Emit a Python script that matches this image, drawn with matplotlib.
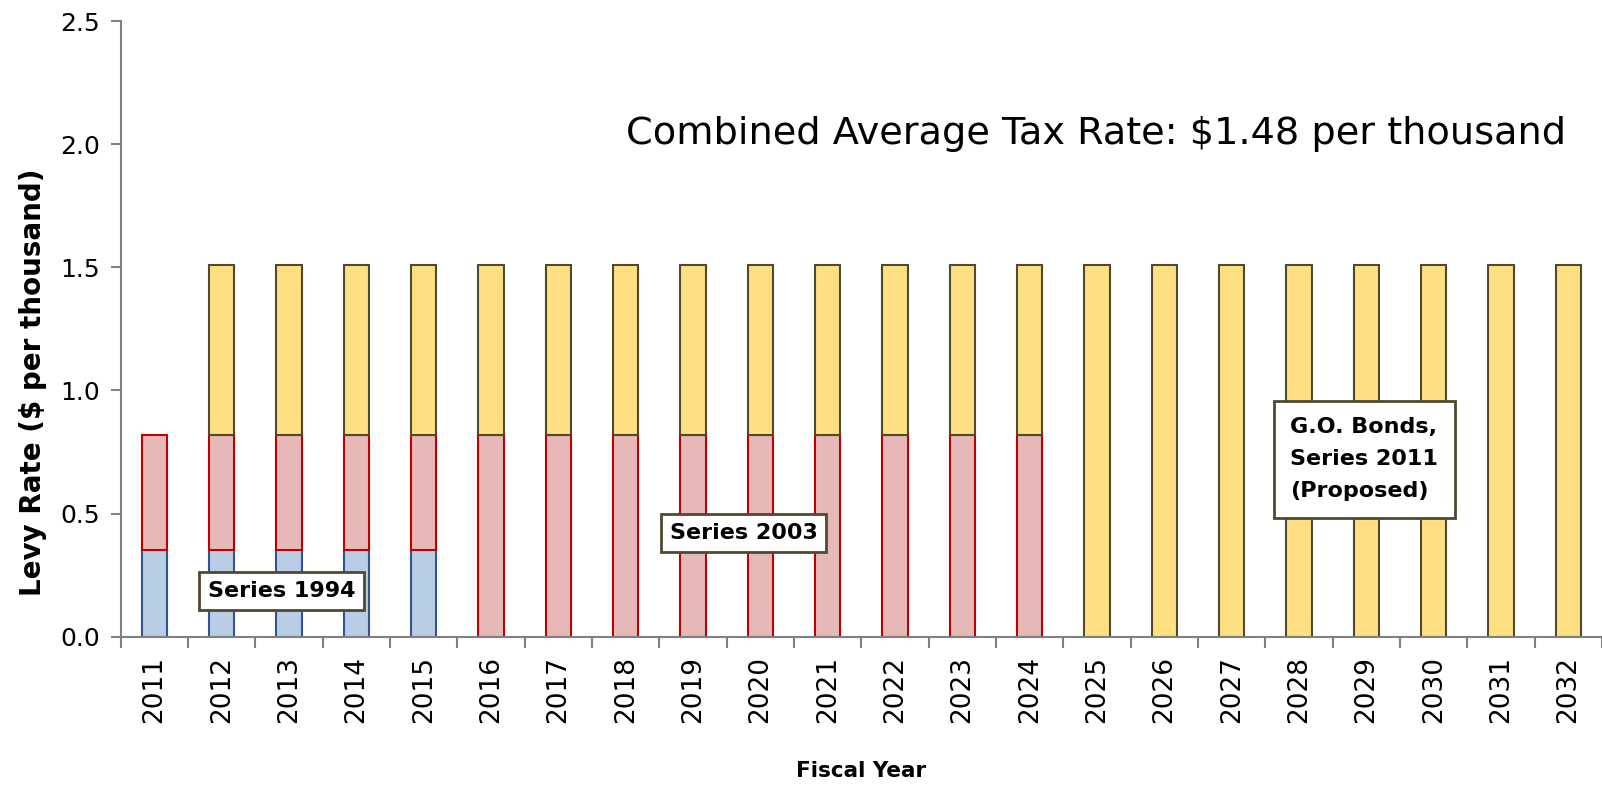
#!/usr/bin/env python3
import numpy as np
import matplotlib.pyplot as plt
from matplotlib.ticker import FixedLocator

plt.rcParams.update({
    "font.family": ["DejaVu Sans"],
    "font.size": 18,
    "axes.spines.right": False,
    "axes.spines.top": False,
})

years = [str(y) for y in range(2011, 2033)]
series_1994 = [0.35, 0.35, 0.35, 0.35, 0.35] + [0] * 17
series_2003 = [0.47, 0.47, 0.47, 0.47, 0.47] + [0.82] * 9 + [0] * 8
series_2011 = [0] + [0.69] * 13 + [1.51] * 8

x = np.arange(len(years))
w = 0.38

fig = plt.figure(figsize=(16.02, 7.86), dpi=100)
ax = fig.add_axes([0.0753, 0.19, 0.9247, 0.783])

b1 = np.array(series_1994)
b2 = b1 + np.array(series_2003)

m = b1 > 0
ax.bar(x[m], b1[m], w, color='#b9cde5', edgecolor='#2f5597', linewidth=1.5)
m = np.array(series_2003) > 0
ax.bar(x[m], np.array(series_2003)[m], w, bottom=b1[m], color='#e6b9b8',
       edgecolor='#c00000', linewidth=1.5)
m = np.array(series_2011) > 0
ax.bar(x[m], np.array(series_2011)[m], w, bottom=b2[m], color='#fee083',
       edgecolor='#4f4a2e', linewidth=1.5)

ax.set_xlim(-0.5, len(years) - 0.5)
ax.set_ylim(0, 2.5)
ax.set_yticks([0, 0.5, 1.0, 1.5, 2.0, 2.5])
ax.set_yticklabels(['0.0', '0.5', '1.0', '1.5', '2.0', '2.5'], fontsize=18)
ax.set_xticks(x)
ax.set_xticklabels(years, rotation=90, fontsize=19)
ax.xaxis.set_minor_locator(FixedLocator(np.arange(len(years) + 1) - 0.5))
ax.tick_params(axis='x', which='major', length=0, pad=14)
ax.tick_params(axis='x', which='minor', length=8, width=1.5, color='#808080')
ax.tick_params(axis='y', length=7, width=1.5, color='#808080', pad=8)
for s in ['left', 'bottom']:
    ax.spines[s].set_color('#808080')
    ax.spines[s].set_linewidth(1.5)

ax.set_ylabel('Levy Rate ($ per thousand)', fontsize=20, fontweight='bold')
ax.yaxis.set_label_coords(-0.05, 0.414)
ax.set_xlabel('Fiscal Year', fontsize=15.5, fontweight='bold', labelpad=27)

box = dict(boxstyle='square,pad=0.4', facecolor='white', edgecolor='#4f4a2e', linewidth=2)
ax.text(1.89, 0.187, 'Series 1994', fontsize=16, fontweight='bold', ha='center', va='center', bbox=box)
ax.text(8.75, 0.42, 'Series 2003', fontsize=16, fontweight='bold', ha='center', va='center', bbox=box)
ax.text(16.87, 0.72, 'G.O. Bonds,\nSeries 2011\n(Proposed)', fontsize=16, fontweight='bold',
        ha='left', va='center', linespacing=1.75,
        bbox=dict(boxstyle='square,pad=0.75', facecolor='white', edgecolor='#4f4a2e', linewidth=2))

ax.text(20.97, 2.04, 'Combined Average Tax Rate: $1.48 per thousand', fontsize=27.5,
        ha='right', va='center')

fig.savefig('out.png', dpi=100)
